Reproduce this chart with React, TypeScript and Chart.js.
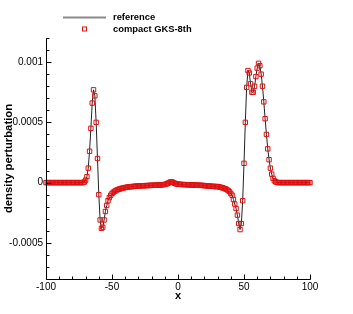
import React, { useEffect, useRef } from "react";
import { Chart, registerables } from "chart.js";

Chart.register(...registerables);

const xValues = [
  -100, -99, -98, -97, -96, -95, -94, -93, -92, -91,
  -90, -89, -88, -87, -86, -85, -84, -83, -82, -81,
  -80, -79, -78, -77, -76, -75, -74, -73, -72,
  -71, -70, -69, -68, -67, -66, -65, -64, -63, -62,
  -61, -60, -59, -58, -57, -56, -55, -54, -53, -52,
  -51, -50, -49, -48, -47, -46, -45, -44, -43, -42,
  -41, -40, -39, -38, -37, -36, -35, -34, -33, -32,
  -31, -30, -29, -28, -27, -26, -25, -24, -23, -22,
  -21, -20, -19, -18, -17, -16, -15, -14, -13, -12,
  -11, -10, -9, -8, -7, -6, -5, -4, -3, -2,
  -1, 0, 1, 2, 3, 4, 5, 6, 7, 8,
  9, 10, 11, 12, 13, 14, 15, 16, 17, 18,
  19, 20, 21, 22, 23, 24, 25, 26, 27, 28,
  29, 30, 31, 32, 33, 34, 35, 36, 37, 38,
  39, 40, 41, 42, 43, 44, 45, 46, 47, 48,
  49, 50, 51, 52, 53, 54, 55, 56, 57, 58,
  59, 60, 61, 62, 63, 64, 65, 66, 67, 68,
  69, 70, 71, 72, 73, 74, 75, 76, 77, 78,
  79, 80, 81, 82, 83, 84, 85, 86, 87, 88,
  89, 90, 91, 92, 93, 94, 95, 96, 97, 98,
  99, 100,
];

const densityValues = [
  0, 0, 0, 0, 0, 0, 0, 0, 0, 0,
  0, 0, 0, 0, 0, 0, 0, 0, 0, 0,
  0, 0, 0, 0, 0, 0, 0, 0, 0,
  0.000005, 0.00002, 0.00005, 0.00012, 0.00026, 0.00045, 0.00066, 0.00077, 0.00072, 0.0005,
  0.0002, -0.0001, -0.00031, -0.00038, -0.00037, -0.00031, -0.00024, -0.00019, -0.00015, -0.000125,
  -0.000105, -0.00009, -0.00008, -0.000072, -0.000066, -0.00006, -0.000056, -0.000052, -0.000049, -0.000046,
  -0.000043, -0.000041, -0.000039, -0.000037, -0.000035, -0.000034, -0.000033, -0.000032, -0.000031, -0.00003,
  -0.000029, -0.000028, -0.000027, -0.000027, -0.000026, -0.000026, -0.000025, -0.000025, -0.000024, -0.000024,
  -0.000023, -0.000023, -0.000022, -0.000022, -0.000021, -0.000021, -0.00002, -0.00002, -0.000019, -0.000018,
  -0.000017, -0.000015, -0.000012, -0.000008, -0.000002, 0.000004, 0.000006, 0.000003, -0.000003, -0.000008,
  -0.000011, -0.000013, -0.000014, -0.000015, -0.000016, -0.000016, -0.000017, -0.000017, -0.000018, -0.000018,
  -0.000019, -0.000019, -0.00002, -0.00002, -0.000021, -0.000021, -0.000022, -0.000022, -0.000023, -0.000023,
  -0.000024, -0.000025, -0.000026, -0.000027, -0.000028, -0.000029, -0.00003, -0.000031, -0.000032, -0.000032,
  -0.000033, -0.000033, -0.000035, -0.000038, -0.000041, -0.000044, -0.000048, -0.000052, -0.000058, -0.000066,
  -0.000076, -0.00009, -0.000105, -0.00014, -0.000178, -0.000215, -0.00027, -0.00034, -0.00039, -0.00034,
  -0.00015, 0.00016, 0.0005, 0.00079, 0.00093, 0.00091, 0.00082, 0.00075, 0.00075, 0.0008,
  0.00088, 0.00095, 0.00099, 0.00097, 0.0009, 0.0008, 0.00067, 0.00053, 0.0004, 0.00028,
  0.00019, 0.00012, 0.00007, 0.000035, 0.000015, 0.000006, 0.000002, 0, 0, 0,
  0, 0, 0, 0, 0, 0, 0, 0, 0, 0,
  0, 0, 0, 0, 0, 0, 0, 0, 0, 0,
  0, 0,
];

const xTickValues = [-100, -50, 0, 50, 100];
const xTickLabels = ["-100", "-50", "0", "50", "100"];
const yTickValues = [-0.0005, 0, 0.0005, 0.001];
const yTickLabels = ["-0.0005", "0", "0.0005", "0.001"];
const xRange = [-100, 100];
const yRange = [-0.0008, 0.0012];
const xMinorStep = 10;
const yMinorStep = 0.0001;
const seriesNames = ["reference", "compact GKS-8th"];
const xTitle = "x";
const yTitle = "density perturbation";

const FONT = "'Liberation Sans', Arial, Helvetica, sans-serif";
const RED = "#e01010";

const ticksPlugin = {
  id: "innerTicks",
  afterDraw(chart: any) {
    const { ctx, chartArea, scales } = chart;
    const xs = scales.x;
    const ys = scales.y;
    ctx.save();
    ctx.strokeStyle = "#000";
    ctx.lineWidth = 1;
    ctx.beginPath();
    // axis lines
    const lx = Math.round(chartArea.left) + 0.5;
    const by = Math.round(chartArea.bottom) + 0.5;
    ctx.moveTo(lx, Math.round(chartArea.top));
    ctx.lineTo(lx, by);
    ctx.lineTo(Math.round(chartArea.right) + 0.5, by);
    // x ticks
    const nx = Math.round((xRange[1] - xRange[0]) / xMinorStep);
    for (let i = 0; i <= nx; i++) {
      const v = xRange[0] + i * xMinorStep;
      const major = xTickValues.some((t) => Math.abs(t - v) < 1e-9);
      const px = Math.round(xs.getPixelForValue(v)) + 0.5;
      ctx.moveTo(px, by);
      ctx.lineTo(px, by - (major ? 5 : 3));
    }
    const ny = Math.round((yRange[1] - yRange[0]) / yMinorStep);
    for (let i = 0; i <= ny; i++) {
      const v = yRange[0] + i * yMinorStep;
      const major = yTickValues.some((t) => Math.abs(t - v) < 1e-9);
      const py = Math.round(ys.getPixelForValue(v)) + 0.5;
      ctx.moveTo(lx, py);
      ctx.lineTo(lx + (major ? 5 : 3), py);
    }
    ctx.stroke();

    // legend
    ctx.font = `bold 9.4px ${FONT}`;
    ctx.fillStyle = "#000";
    ctx.textBaseline = "middle";
    ctx.textAlign = "left";
    ctx.strokeStyle = "#8a8a8a";
    ctx.lineWidth = 2;
    ctx.beginPath();
    ctx.moveTo(63, 17.5);
    ctx.lineTo(106, 17.5);
    ctx.stroke();
    ctx.fillText(seriesNames[0], 113, 17.5);
    ctx.strokeStyle = RED;
    ctx.lineWidth = 1;
    ctx.strokeRect(82.5, 27, 4, 4);
    ctx.fillText(seriesNames[1], 113, 29.5);
    ctx.restore();
  },
};

export default function App() {
  const ref = useRef<HTMLCanvasElement | null>(null);
  useEffect(() => {
    if (!ref.current) return;
    const points = xValues.map((x, i) => ({ x, y: densityValues[i] }));
    const chart = new Chart(ref.current, {
      type: "scatter",
      data: {
        datasets: [
          {
            label: seriesNames[1],
            data: points,
            showLine: false,
            pointStyle: "rect",
            pointRadius: 3.1,
            borderColor: RED,
            backgroundColor: "rgba(255,255,255,0)",
            borderWidth: 1,
            order: 0,
            clip: false,
          } as any,
          {
            label: seriesNames[0],
            data: points,
            showLine: true,
            pointRadius: 0,
            borderColor: "#222",
            borderWidth: 1,
            order: 1,
          } as any,
        ],
      },
      options: {
        animation: false,
        responsive: false,
        layout: { padding: { left: 0, right: 43, top: 38, bottom: 0 } },
        plugins: { legend: { display: false }, tooltip: { enabled: false } },
        scales: {
          x: {
            type: "linear",
            min: xRange[0],
            max: xRange[1],
            grid: { display: false, drawTicks: false },
            border: { display: false },
            afterBuildTicks: (s: any) => {
              s.ticks = xTickValues.map((v) => ({ value: v }));
            },
            afterFit: (s: any) => {
              s.height = 35;
            },
            ticks: {
              color: "#000",
              padding: 2,
              maxRotation: 0,
              font: { size: 10, family: FONT },
              callback: (v: any) => {
                const i = xTickValues.findIndex((t) => Math.abs(t - v) < 1e-9);
                return i >= 0 ? xTickLabels[i] : "";
              },
            },
            title: {
              display: true,
              text: xTitle,
              color: "#000",
              font: { size: 11, weight: "bold", family: FONT },
              padding: { top: 0, bottom: 11.5 },
            },
          },
          y: {
            type: "linear",
            min: yRange[0],
            max: yRange[1],
            grid: { display: false, drawTicks: false },
            border: { display: false },
            afterBuildTicks: (s: any) => {
              s.ticks = yTickValues.map((v) => ({ value: v }));
            },
            afterFit: (s: any) => {
              s.width = 46;
            },
            ticks: {
              color: "#000",
              padding: 3,
              font: { size: 10, family: FONT },
              callback: (v: any) => {
                const i = yTickValues.findIndex((t) => Math.abs(t - v) < 1e-12);
                return i >= 0 ? yTickLabels[i] : "";
              },
            },
            title: {
              display: true,
              text: yTitle,
              color: "#000",
              font: { size: 11.3, weight: "bold", family: FONT },
              padding: { top: 1.8, bottom: 0 },
            },
          },
        },
      },
      plugins: [ticksPlugin],
    });
    return () => chart.destroy();
  }, []);
  return (
    <canvas
      ref={ref}
      width={353}
      height={314}
      style={{ position: "absolute", left: 0, top: 0, display: "block" }}
    />
  );
}
